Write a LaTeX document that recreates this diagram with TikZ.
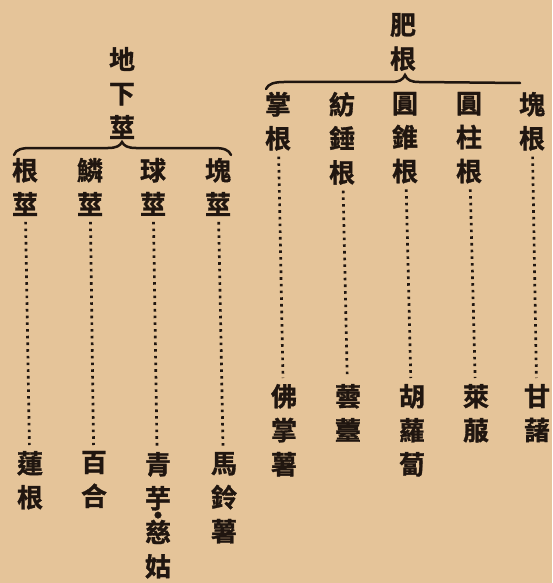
\documentclass[tikz,border=0pt]{standalone}
\usepackage{fontspec}
\newfontfamily\cjk{Noto Sans CJK TC Bold}[FakeBold=1.2]
\definecolor{paper}{RGB}{229,196,153}
\definecolor{ink}{RGB}{32,22,16}
\tikzset{
  col/.style={anchor=north, inner sep=0pt, outer sep=0pt, align=center, text=ink,
    font=\cjk\fontsize{26}{34}\selectfont},
  dots/.style={draw=ink, line width=2.7pt, line cap=butt, dash pattern=on 2.6pt off 4.1pt,
    shorten <=6pt, shorten >=6pt},
  bracepath/.style={draw=ink, line width=2.5pt, line cap=round}
}
\begin{document}
\begin{tikzpicture}[x=1pt,y=-1pt]
\fill[paper] (0,0) rectangle (552,583);
\useasboundingbox (0,0) rectangle (552,583);
% left group
\node[col] (dxj) at (122,47) {地\\下\\莖};
\node[col] (gj) at (25,158) {根\\莖};
\node[col] (lj) at (90,158) {鱗\\莖};
\node[col] (qj) at (153,158) {球\\莖};
\node[col] (kj) at (218,158) {塊\\莖};
\node[col] (lg) at (30,451) {蓮\\根};
\node[col] (bh) at (94,451) {百\\合};
\node[col] (qy) at (158,452) {青\\芋\\\makebox[0pt][l]{\makebox[1em]{\raisebox{0.66em}{\smash{·}}}}慈\\姑};
\node[col] (mls) at (224,452) {馬\\鈴\\薯};
% right group
\node[col] (fg) at (403,13) {肥\\根};
\node[col] (zg) at (278,92) {掌\\根};
\node[col] (fcg) at (342,92) {紡\\錘\\根};
\node[col] (yzg) at (405,92) {圓\\錐\\根};
\node[col] (yzhg) at (469,92) {圓\\柱\\根};
\node[col] (kg) at (532,92) {塊\\根};
\node[col] (fzs) at (284,384) {佛\\掌\\薯};
\node[col] (yt) at (348,384) {蕓\\薹};
\node[col] (hlb) at (412,384) {胡\\蘿\\蔔};
\node[col] (lf) at (476,384) {萊\\菔};
\node[col] (gs) at (537,384) {甘\\藷};
% braces
\path[bracepath] (14,155) .. controls (16,149) and (22,148) .. (32,148) -- (108,148)
  .. controls (116,148) and (120,146) .. (122,142)
  .. controls (124,146) and (128,148) .. (136,148) -- (214,148)
  .. controls (224,148) and (229,150) .. (231,155);
\path[bracepath] (266,89) .. controls (268,84) and (274,82) .. (284,82) -- (391,82)
  .. controls (399,82) and (403,80) .. (405,75)
  .. controls (407,80) and (411,82) .. (419,82) -- (520,83);
% dotted connectors
\draw[dots] (gj) -- (lg);
\draw[dots] (lj) -- (bh);
\draw[dots] (qj) -- (qy);
\draw[dots] (kj) -- (mls);
\draw[dots] (zg) -- (fzs);
\draw[dots] (fcg) -- (yt);
\draw[dots] (yzg) -- (hlb);
\draw[dots] (yzhg) -- (lf);
\draw[dots] (kg) -- (gs);
\end{tikzpicture}
\end{document}
